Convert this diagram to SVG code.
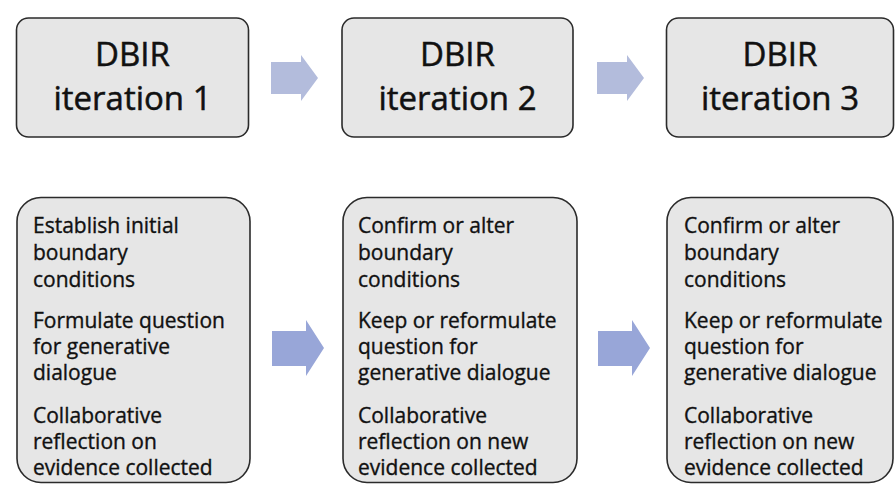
<svg xmlns="http://www.w3.org/2000/svg" width="895" height="493" viewBox="0 0 895 493">
<style>
.box{fill:#e6e6e6;stroke:#2b2b2b;stroke-width:1.6}
.t{font-family:"Open Sans","Liberation Sans",sans-serif;fill:#111;stroke:#111;stroke-width:0.35}
.h{font-size:33px;text-anchor:middle;stroke-width:0.5}
.b{font-size:21px}
.a1{fill:#b3bcdc}
.a2{fill:#98a6d8}
</style>
<rect width="895" height="493" fill="#ffffff"/>
<g id="connectors">
<path class="a1" d="M271,62 H301 V55 L318,78 L301,101 V94 H271 Z"/>
<path class="a1" d="M597,62 H627 V55 L644,78 L627,101 V94 H597 Z"/>
<path class="a2" d="M272,331 H306 V320 L324,348 L306,376 V366 H272 Z"/>
<path class="a2" d="M598,331 H632 V320 L650,348 L632,376 V366 H598 Z"/>
</g>
<g id="iter1">
<rect class="box" x="16.5" y="18" width="232" height="119" rx="12"/>
<text class="t h" x="132.5" y="66">DBIR</text>
<text class="t h" x="132.5" y="110">iteration 1</text>
</g>
<g id="iter2">
<rect class="box" x="342" y="18" width="231" height="119" rx="12"/>
<text class="t h" x="457.5" y="66">DBIR</text>
<text class="t h" x="457.5" y="110">iteration 2</text>
</g>
<g id="iter3">
<rect class="box" x="666.5" y="18" width="227" height="119" rx="12"/>
<text class="t h" x="780" y="66">DBIR</text>
<text class="t h" x="780" y="110">iteration 3</text>
</g>
<g id="detail1">
<rect class="box" x="17" y="197.5" width="233" height="285" rx="24"/>
<text class="t b" x="33"><tspan x="33" y="233">Establish initial</tspan><tspan x="33" y="260">boundary</tspan><tspan x="33" y="287">conditions</tspan><tspan x="33" y="328">Formulate question</tspan><tspan x="33" y="354">for generative</tspan><tspan x="33" y="380">dialogue</tspan><tspan x="33" y="423">Collaborative</tspan><tspan x="33" y="449">reflection on</tspan><tspan x="33" y="475">evidence collected</tspan></text>
</g>
<g id="detail2">
<rect class="box" x="343" y="197.5" width="234" height="285" rx="24"/>
<text class="t b" x="358"><tspan x="358" y="233">Confirm or alter</tspan><tspan x="358" y="260">boundary</tspan><tspan x="358" y="287">conditions</tspan><tspan x="358" y="328">Keep or reformulate</tspan><tspan x="358" y="354">question for</tspan><tspan x="358" y="380">generative dialogue</tspan><tspan x="358" y="423">Collaborative</tspan><tspan x="358" y="449">reflection on new</tspan><tspan x="358" y="475">evidence collected</tspan></text>
</g>
<g id="detail3">
<rect class="box" x="667" y="197.5" width="226" height="285" rx="24"/>
<text class="t b" x="684"><tspan x="684" y="233">Confirm or alter</tspan><tspan x="684" y="260">boundary</tspan><tspan x="684" y="287">conditions</tspan><tspan x="684" y="328">Keep or reformulate</tspan><tspan x="684" y="354">question for</tspan><tspan x="684" y="380">generative dialogue</tspan><tspan x="684" y="423">Collaborative</tspan><tspan x="684" y="449">reflection on new</tspan><tspan x="684" y="475">evidence collected</tspan></text>
</g>
</svg>
